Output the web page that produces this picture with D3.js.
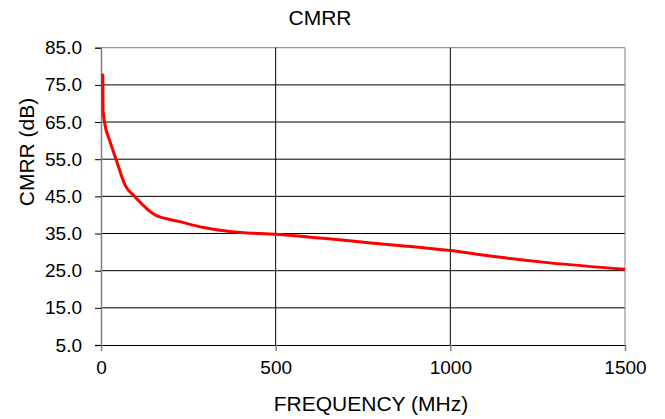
<!DOCTYPE html>
<html>
<head>
<meta charset="utf-8">
<script src="https://cdn.jsdelivr.net/npm/d3@7"></script>
<style>
  body { margin: 0; background: #fff; }
  svg { display: block; font-family: "Liberation Sans", Arial, sans-serif; }
</style>
</head>
<body>
<svg width="665" height="419"></svg>
<script>
// Data
const frequency = [5, 6, 10, 25, 43, 69, 97, 155, 226, 293, 340, 400, 500, 636, 780, 875, 1000, 1143, 1285, 1500];
const cmrr = [78, 68, 65, 60, 55, 48, 44.9, 40, 38.2, 36.6, 35.9, 35.3, 34.8, 33.7, 32.4, 31.6, 30.4, 28.6, 27.1, 25.4];
const yTicks = [5, 15, 25, 35, 45, 55, 65, 75, 85];
const xTicks = [0, 500, 1000, 1500];

const data = frequency.map((f, i) => ({ f: f, v: cmrr[i] }));

// Dimensions and margins
const margin = { top: 47.7, right: 40, bottom: 74, left: 101 },
    width = 665 - margin.left - margin.right,
    height = 419 - margin.top - margin.bottom;

const svg = d3.select("svg")
    .append("g")
    .attr("transform", `translate(${margin.left},${margin.top})`);

// Scales
const x = d3.scaleLinear()
    .domain([0, 1500])
    .range([0, width]);

const y = d3.scaleLinear()
    .domain([5, 85])
    .range([height, 0]);

// Horizontal gridlines
svg.append("g")
    .selectAll("line")
    .data(yTicks.slice(1))
    .join("line")
    .attr("x1", 0)
    .attr("x2", width)
    .attr("y1", d => y(d))
    .attr("y2", d => y(d))
    .attr("stroke", d => d === 85 ? "#808080" : "#000")
    .attr("stroke-width", 1);

// Vertical gridlines
svg.append("g")
    .selectAll("line")
    .data(xTicks.slice(1))
    .join("line")
    .attr("x1", d => x(d))
    .attr("x2", d => x(d))
    .attr("y1", 0)
    .attr("y2", height)
    .attr("stroke", d => d === 1500 ? "#808080" : "#000")
    .attr("stroke-width", 1);

// Axes
const yAxis = svg.append("g")
    .call(d3.axisLeft(y).tickValues(yTicks).tickFormat(d3.format(".1f")).tickSize(6).tickPadding(13));
yAxis.select(".domain").attr("stroke", "#808080").attr("stroke-width", 1.5);
yAxis.selectAll(".tick line").attr("stroke", "#000");
yAxis.selectAll("text").style("font-size", "19px").attr("fill", "#000");

const xAxis = svg.append("g")
    .attr("transform", `translate(0,${height})`)
    .call(d3.axisBottom(x).tickValues(xTicks).tickFormat(d3.format("d")).tickSize(6).tickPadding(10));
xAxis.select(".domain").attr("stroke", "#000");
xAxis.selectAll(".tick line").attr("stroke", "#808080").attr("stroke-width", 1.5);
xAxis.selectAll("text").style("font-size", "19px").attr("fill", "#000");

// Title
svg.append("text")
    .attr("x", 320 - margin.left)
    .attr("y", 25 - margin.top)
    .attr("text-anchor", "middle")
    .style("font-size", "21px")
    .text("CMRR");

// X axis label
svg.append("text")
    .attr("x", width / 2 + 8)
    .attr("y", 411 - margin.top)
    .attr("text-anchor", "middle")
    .style("font-size", "21px")
    .text("FREQUENCY (MHz)");

// Y axis label
svg.append("text")
    .attr("transform", "rotate(-90)")
    .attr("x", -(152 - margin.top))
    .attr("y", 34 - margin.left)
    .attr("text-anchor", "middle")
    .style("font-size", "21px")
    .text("CMRR (dB)");

// CMRR line
const line = d3.line()
    .x(d => x(d.f))
    .y(d => y(d.v))
    .curve(d3.curveMonotoneX);

svg.append("path")
    .datum(data)
    .attr("fill", "none")
    .attr("stroke", "#ff0000")
    .attr("stroke-width", 3)
    .attr("stroke-linejoin", "round")
    .attr("d", line);
</script>
</body>
</html>
